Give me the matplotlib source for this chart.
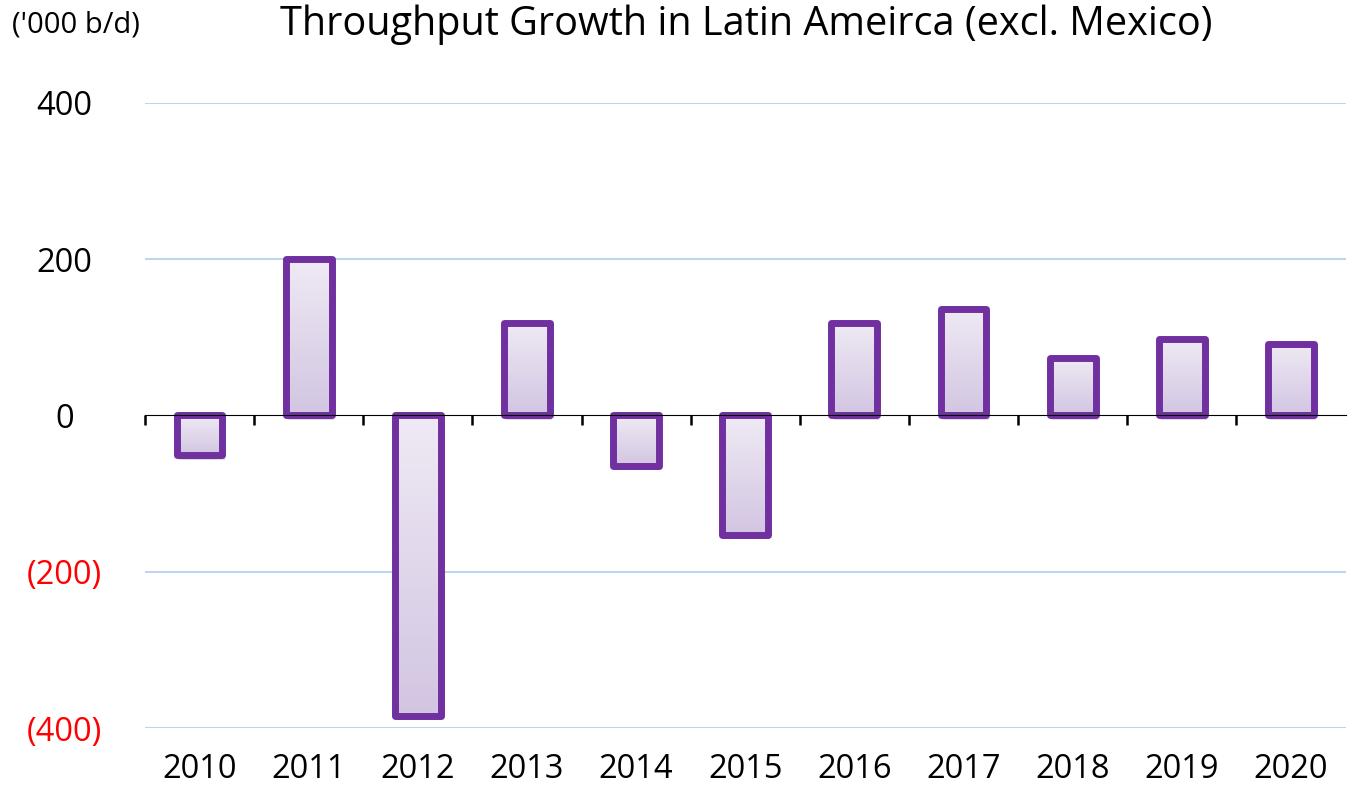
import matplotlib.pyplot as plt
import matplotlib.patheffects as pe
from matplotlib.colors import LinearSegmentedColormap
import numpy as np

plt.rcParams['font.family'] = ['Open Sans', 'DejaVu Sans']

# data ('000 b/d)
years = ['2010', '2011', '2012', '2013', '2014', '2015', '2016', '2017', '2018', '2019', '2020']
growth = [-51, 200, -385, 118, -65, -153, 118, 136, 73, 98, 91]

y_ticks = [-400, -200, 0, 200, 400]
y_labels = ['(400)', '(200)', '0', '200', '400']

edge_col = '#7030A0'
grid_col = '#BFD5EE'

fig = plt.figure(figsize=(13.55, 7.89), dpi=100)
ax = fig.add_axes([0.107, 0.0773, 0.886, 0.7922])

x = np.arange(len(years))
bars = ax.bar(x, growth, width=0.42, facecolor='#E3DBEE', edgecolor='none', zorder=2,
              path_effects=[pe.SimplePatchShadow(offset=(1.5, -3), alpha=0.18), pe.Normal()])

# vertical gradient inside each bar
grad = np.linspace(0, 1, 100).reshape(-1, 1)
cmap = LinearSegmentedColormap.from_list('lav', ['#EFEAF4', '#D2C5E2'])
for b in bars:
    x0, y0 = b.get_x(), b.get_y()
    w, h = b.get_width(), b.get_height()
    lo, hi = min(y0, y0 + h), max(y0, y0 + h)
    im = ax.imshow(grad, extent=[x0, x0 + w, lo, hi], origin='upper', cmap=cmap,
                   aspect='auto', zorder=2.5)
    im.set_clip_path(b)

ax.bar(x, growth, width=0.42, facecolor='none', edgecolor=edge_col, linewidth=5,
       joinstyle='round', zorder=3)

ax.set_xlim(-0.5, len(years) - 0.5)
ax.set_ylim(-400, 400)
ax.set_aspect('auto')

for s in ax.spines.values():
    s.set_visible(False)

# gridlines (no gridline at zero, axis line instead)
for v in [-400, -200, 200, 400]:
    ax.axhline(v, color=grid_col, linewidth=1.5, zorder=1)

ax.set_yticks(y_ticks)
ax.set_yticklabels(y_labels, fontsize=23.5)
ax.tick_params(axis='y', length=0, pad=58)
for lab, v in zip(ax.get_yticklabels(), y_ticks):
    lab.set_horizontalalignment('center')
    lab.set_color('#FF0000' if v < 0 else 'black')

ax.set_xticks(x)
ax.set_xticklabels(years, fontsize=23.5)
ax.tick_params(axis='x', length=0, pad=18)

# zero axis line with category boundary ticks
sec = ax.secondary_xaxis(0.5)
sec.set_xticks(np.arange(-0.5, len(years) - 1, 1.0))
sec.set_xticklabels([])
sec.tick_params(direction='in', length=7, width=1.8, color='black')
sec.spines['bottom'].set_linewidth(1.8)
sec.set_zorder(4)

fig.text(0.551, 0.968, 'Throughput Growth in Latin Ameirca (excl. Mexico)', fontsize=28.5,
         ha='center', va='center')
fig.text(0.009, 0.968, "('000 b/d)", fontsize=21, ha='left', va='center')

fig.savefig('out.png', dpi=100)
